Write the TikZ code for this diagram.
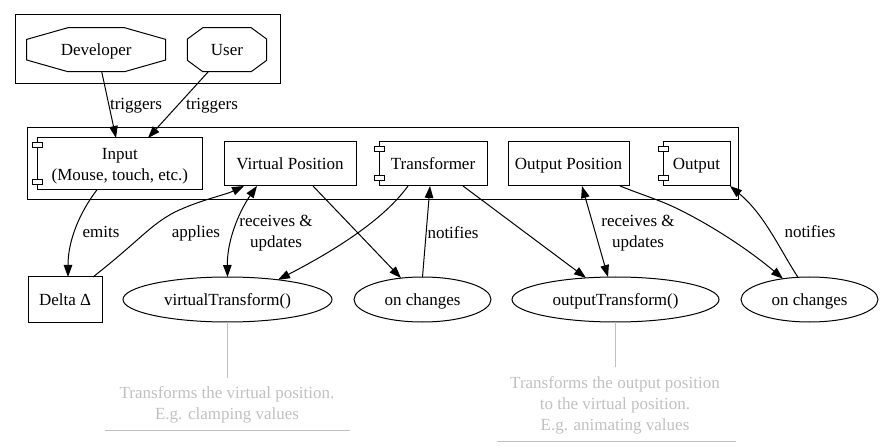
\documentclass[tikz,border=0pt]{standalone}
\usepackage{fontspec}
\setmainfont{Liberation Serif}
\newfontfamily\tmsfont{Liberation Serif}
\usetikzlibrary{arrows.meta,shapes.geometric,calc}
\definecolor{notegray}{HTML}{C0C0C0}
\newcommand\comptabs[1]{%
  \draw[tabbox] ($(#1.north west)+(-5,5)$) rectangle ($(#1.north west)+(5,10)$);
  \draw[tabbox] ($(#1.south west)+(-5,-10)$) rectangle ($(#1.south west)+(5,-5)$);}
\begin{document}
\begin{tikzpicture}[x=1pt,y=-1pt,
  every node/.style={font=\tmsfont\fontsize{17pt}{21pt}\selectfont, inner sep=0pt, outer sep=0pt},
  sl/.style={text height=14pt, text depth=2pt},
  lbl/.style={text height=12pt, text depth=4pt},
  box/.style={draw, line width=1pt, rectangle},
  oval/.style={draw, line width=1pt, ellipse, minimum height=45pt},
  cluster/.style={draw, line width=1pt, rectangle},
  lw/.style={line width=1pt},
  edge/.style={line width=1pt, -{Triangle[length=12pt,width=8.5pt]}},
  biedge/.style={line width=1pt, {Triangle[length=12pt,width=8.5pt]}-{Triangle[length=12pt,width=8.5pt]}},
  lab/.style={align=center},
  note/.style={text=notegray, align=center},
  noteline/.style={draw=notegray, line width=0.9pt},
  tabbox/.style={draw, fill=white, line width=1pt},
]
\useasboundingbox (0,0) rectangle (883,446);

% clusters
\node[cluster, minimum width=265pt, minimum height=69.5pt] (ctop) at (147.5,49.25) {};
\node[cluster, minimum width=710.3pt, minimum height=72pt] (cmain) at (382.85,164) {};

% octagons
\node[sl, minimum width=139pt, minimum height=44pt] (dev) at (96.2,49.7) {Developer};
\node[sl, minimum width=79.4pt, minimum height=44pt] (user) at (227,49.7) {User};
\draw[lw] (dev.center) +(-28.3,-22) -- +(28.3,-22) -- +(69.5,-10.3) -- +(69.5,10.3)
  -- +(28.3,22) -- +(-28.3,22) -- +(-69.5,10.3) -- +(-69.5,-10.3) -- cycle;
\draw[lw] (user.center) +(-24.2,-22) -- +(24.2,-22) -- +(39.7,-10.6) -- +(39.7,10.6)
  -- +(24.2,22) -- +(-24.2,22) -- +(-39.7,10.6) -- +(-39.7,-10.6) -- cycle;

% boxes
\node[box, minimum width=164.3pt, minimum height=52pt] (in) at (119.85,164) {};
\node[align=center] (intext) at (119.85,166.5) {Input\\(Mouse, touch, etc.)};
\node[box, sl, minimum width=132pt, minimum height=44pt] (vp) at (290,164) {Virtual Position};
\node[box, sl, minimum width=108pt, minimum height=44pt] (tr) at (433,164) {Transformer};
\node[box, sl, minimum width=121pt, minimum height=44pt] (op) at (568.5,164) {Output Position};
\node[box, sl, minimum width=67pt, minimum height=44pt] (out) at (696.5,164) {Output};
\comptabs{in}
\comptabs{tr}
\comptabs{out}

\node[box, sl, minimum width=74pt, minimum height=45pt] (delta) at (65,299.5) {Delta Δ};
\node[oval, sl, minimum width=209pt] (vt) at (227.5,299.5) {virtualTransform()};
\node[oval, sl, minimum width=137pt] (oc1) at (422.5,299.5) {on changes};
\node[oval, sl, minimum width=207pt] (ot) at (615.5,299.5) {outputTransform()};
\node[oval, sl, minimum width=137pt] (oc2) at (809.5,299.5) {on changes};

% edges
\draw[edge] ($(dev.south)+(5.5,0)$) -- ($(in.north)+(-3.85,0)$);
\draw[edge] ($(user.south)+(-18.7,0)$) -- ($(in.north)+(28.15,0)$);
\node[lbl] (t1) at (136,106) {triggers};
\node[lbl] (t2) at (212,106) {triggers};

\draw[edge] ($(in.south)+(-23,0)$) .. controls ($(delta.north)+(15,-65)$) and ($(delta.north)+(3,-37)$) .. ($(delta.north)+(3,0)$);
\node[lbl] (lemits) at (101,234) {emits};

\draw[edge] ($(delta.north)+(28,0)$) .. controls (140,240) and (150,225) .. (175,212)
  .. controls (200,200) and (225,195) .. ($(vp.south)+(-46,0)$);
\node[lbl] (lapplies) at (196,234) {applies};

\draw[biedge] ($(vp.south)+(-33,0)$) .. controls (242,207) and (227,237) .. (vt.north);
\node[lab] (lrec1) at (276,233.5) {receives \&\\updates};

\draw[edge] ($(vp.south)+(23,0)$) -- ($(oc1.center)+(-21.5,-21.4)$);
\draw[edge] ($(tr.south)+(-25,0)$) .. controls (380,225) and (320,258) .. ($(vt.center)+(50.5,-19.7)$);
\draw[edge] (oc1.north) -- ($(tr.south)+(-3,0)$);
\node[lbl] (lnot1) at (453,235) {notifies};

\draw[edge] ($(tr.south)+(30,0)$) -- ($(ot.center)+(-29.5,-21.6)$);
\draw[biedge] ($(op.south)+(13.5,0)$) -- ($(ot.north)+(-7.5,0)$);
\node[lab] (lrec2) at (638,233.5) {receives \&\\updates};

\draw[edge] ($(op.south)+(51.5,0)$) .. controls (645,196) and (660,200) .. (680,210)
  .. controls (720,230) and (755,255) .. ($(oc2.center)+(-26.5,-20.75)$);
\draw[edge] ($(oc2.center)+(-11.5,-22.2)$) .. controls (780,250) and (765,215) .. (out.south east);
\node[lbl] (lnot2) at (810,234) {notifies};

% notes
\coordinate (n1top) at (227.5,378);
\draw[noteline] (vt.south) -- (n1top);
\node[note] (n1) at (227,404.5) {Transforms the virtual position.\\E.g. clamping values};
\coordinate (n1a) at (105,430);
\coordinate (n1b) at (350,430);
\draw[noteline] (n1a) -- (n1b);

\coordinate (n2top) at (615.5,367);
\draw[noteline] (ot.south) -- (n2top);
\node[note] (n2) at (615,405) {Transforms the output position\\to the virtual position.\\E.g. animating values};
\coordinate (n2a) at (497,441);
\coordinate (n2b) at (736,441);
\draw[noteline] (n2a) -- (n2b);
\end{tikzpicture}
\end{document}
